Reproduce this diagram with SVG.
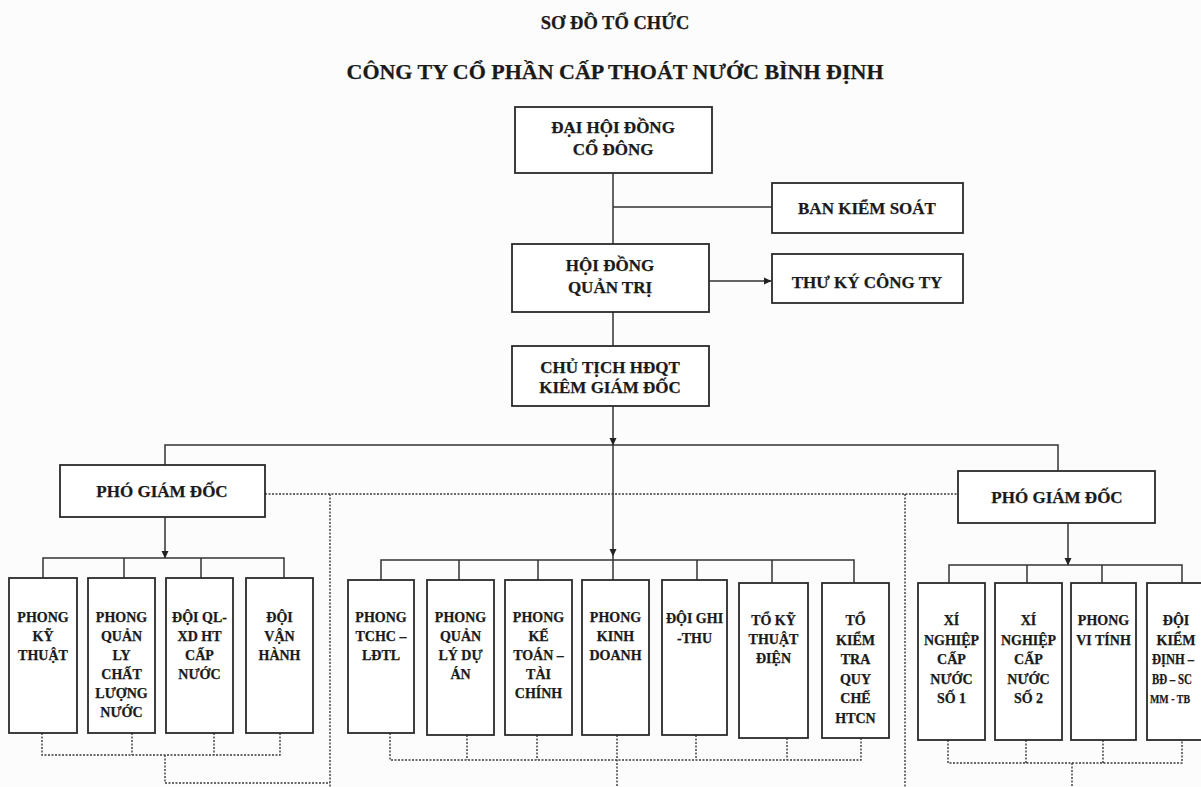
<svg xmlns="http://www.w3.org/2000/svg" width="1201" height="787" viewBox="0 0 1201 787">
<defs>
<marker id="arr" markerWidth="8" markerHeight="8" refX="7" refY="4" orient="auto" markerUnits="userSpaceOnUse">
<path d="M0,0.5 L7.5,4 L0,7.5 Z" fill="#222"/>
</marker>
<style>
.bx{fill:#fff;stroke:#2a2a2a;stroke-width:1.8}
.ln{fill:none;stroke:#333;stroke-width:1.5}
.dt{fill:none;stroke:#3a3a3a;stroke-width:1.4;stroke-dasharray:2 1.5}
.t{font-family:"Liberation Serif","Times New Roman",serif;font-weight:bold;fill:#1a1a1a;stroke:#1a1a1a;stroke-width:0.25;text-anchor:middle}
.t17{font-size:17px}
.t14{font-size:14px}
</style>
</defs>
<rect width="1201" height="787" fill="#fcfcfc"/>

<g id="title">
<text class="t" x="615" y="29" font-size="18.5">SƠ ĐỒ TỔ CHỨC</text>
<text class="t" x="615" y="79" font-size="21" textLength="537" lengthAdjust="spacingAndGlyphs">CÔNG TY CỔ PHẦN CẤP THOÁT NƯỚC BÌNH ĐỊNH</text>
</g>

<g id="connectors">
<path class="ln" d="M613,173 V244 M613,207 H772 M613,312 V346"/>
<path class="ln" d="M709,281 H771" marker-end="url(#arr)"/>
<path class="ln" d="M613,406 V445" marker-end="url(#arr)"/>
<path class="ln" d="M613,445 V556" marker-end="url(#arr)"/>
<path class="ln" d="M613,556 V580"/>
<path class="ln" d="M165,465 V445 H1058 V471"/>
<path class="ln" d="M165,517 V558" marker-end="url(#arr)"/>
<path class="ln" d="M43,578 V558 H284 V578 M124,558 V578 M201,558 V578"/>
<path class="ln" d="M381,580 V560 H854 V583 M459,560 V580 M538,560 V580 M697,560 V580 M772,560 V583"/>
<path class="ln" d="M1068,523 V565" marker-end="url(#arr)"/>
<path class="ln" d="M949,583 V565 H1182 V583 M1027,565 V583 M1102,565 V583"/>
<path class="dt" d="M265,494 H958 M330,494 V787 M905,494 V787"/>
<path class="dt" d="M42,733 V755 H280 V733 M132,733 V755 M214,733 V755 M165,755 V783 H330"/>
<path class="dt" d="M390,733 V760 H861 V738 M467,735 V760 M537,735 V760 M696,735 V760 M787,738 V760 M617,735 V787"/>
<path class="dt" d="M948,740 V763 H1182 V740 M1026,740 V763 M1103,740 V763 M1072,763 V787"/>
</g>

<g id="dhdcd"><rect class="bx" x="515" y="107" width="197" height="66"/>
<text class="t t17" x="613" y="133">ĐẠI HỘI ĐỒNG</text><text class="t t17" x="613" y="155">CỔ ĐÔNG</text></g>
<g id="bks"><rect class="bx" x="772" y="183" width="191" height="50"/>
<text class="t t17" x="867" y="214">BAN KIỂM SOÁT</text></g>
<g id="hdqt"><rect class="bx" x="512" y="244" width="197" height="68"/>
<text class="t t17" x="610" y="271">HỘI ĐỒNG</text><text class="t t17" x="610" y="293">QUẢN TRỊ</text></g>
<g id="thuky"><rect class="bx" x="772" y="254" width="191" height="49"/>
<text class="t t17" x="867" y="288">THƯ KÝ CÔNG TY</text></g>
<g id="chutich"><rect class="bx" x="512" y="346" width="197" height="60"/>
<text class="t t17" x="610" y="373">CHỦ TỊCH HĐQT</text><text class="t t17" x="610" y="393">KIÊM GIÁM ĐỐC</text></g>
<g id="pgd1"><rect class="bx" x="60" y="465" width="205" height="52"/>
<text class="t t17" x="162" y="497">PHÓ GIÁM ĐỐC</text></g>
<g id="pgd2"><rect class="bx" x="958" y="471" width="197" height="52"/>
<text class="t t17" x="1057" y="503">PHÓ GIÁM ĐỐC</text></g>

<g id="n1"><rect class="bx" x="9" y="578" width="68" height="155"/>
<text class="t t14" y="622"><tspan x="43">PHONG</tspan><tspan x="43" dy="19">KỸ</tspan><tspan x="43" dy="19">THUẬT</tspan></text></g>
<g id="n2"><rect class="bx" x="88" y="578" width="67" height="155"/>
<text class="t t14" y="622"><tspan x="121.5">PHONG</tspan><tspan x="121.5" dy="19">QUẢN</tspan><tspan x="121.5" dy="19">LY</tspan><tspan x="121.5" dy="19">CHẤT</tspan><tspan x="121.5" dy="19">LƯỢNG</tspan><tspan x="121.5" dy="19">NƯỚC</tspan></text></g>
<g id="n3"><rect class="bx" x="166" y="578" width="67" height="155"/>
<text class="t t14" y="622"><tspan x="199.5">ĐỘI QL-</tspan><tspan x="199.5" dy="19">XD HT</tspan><tspan x="199.5" dy="19">CẤP</tspan><tspan x="199.5" dy="19">NƯỚC</tspan></text></g>
<g id="n4"><rect class="bx" x="246" y="578" width="67" height="155"/>
<text class="t t14" y="622"><tspan x="279.5">ĐỘI</tspan><tspan x="279.5" dy="19">VẬN</tspan><tspan x="279.5" dy="19">HÀNH</tspan></text></g>

<g id="n5"><rect class="bx" x="348" y="580" width="66" height="153"/>
<text class="t t14" y="622"><tspan x="381">PHONG</tspan><tspan x="381" dy="19">TCHC –</tspan><tspan x="381" dy="19">LĐTL</tspan></text></g>
<g id="n6"><rect class="bx" x="427" y="580" width="67" height="155"/>
<text class="t t14" y="622"><tspan x="460.5">PHONG</tspan><tspan x="460.5" dy="19">QUẢN</tspan><tspan x="460.5" dy="19">LÝ DỰ</tspan><tspan x="460.5" dy="19">ÁN</tspan></text></g>
<g id="n7"><rect class="bx" x="505" y="580" width="67" height="155"/>
<text class="t t14" y="622"><tspan x="538.5">PHONG</tspan><tspan x="538.5" dy="19">KẾ</tspan><tspan x="538.5" dy="19">TOÁN –</tspan><tspan x="538.5" dy="19">TÀI</tspan><tspan x="538.5" dy="19">CHÍNH</tspan></text></g>
<g id="n8"><rect class="bx" x="582" y="580" width="67" height="155"/>
<text class="t t14" y="622"><tspan x="615.5">PHONG</tspan><tspan x="615.5" dy="19">KINH</tspan><tspan x="615.5" dy="19">DOANH</tspan></text></g>
<g id="n9"><rect class="bx" x="662" y="580" width="65" height="155"/>
<text class="t t14" y="623"><tspan x="694.5">ĐỘI GHI</tspan><tspan x="694.5" dy="20">-THU</tspan></text></g>
<g id="n10"><rect class="bx" x="739" y="583" width="69" height="155"/>
<text class="t t14" y="625"><tspan x="773.5">TỔ KỸ</tspan><tspan x="773.5" dy="19">THUẬT</tspan><tspan x="773.5" dy="19">ĐIỆN</tspan></text></g>
<g id="n11"><rect class="bx" x="822" y="583" width="67" height="155"/>
<text class="t t14" y="625"><tspan x="855.5">TỔ</tspan><tspan x="855.5" dy="19.5">KIỂM</tspan><tspan x="855.5" dy="19.5">TRA</tspan><tspan x="855.5" dy="19.5">QUY</tspan><tspan x="855.5" dy="19.5">CHẾ</tspan><tspan x="855.5" dy="19.5">HTCN</tspan></text></g>

<g id="n12"><rect class="bx" x="918" y="583" width="67" height="157"/>
<text class="t t14" y="625"><tspan x="951.5">XÍ</tspan><tspan x="951.5" dy="19.5">NGHIỆP</tspan><tspan x="951.5" dy="19.5">CẤP</tspan><tspan x="951.5" dy="19.5">NƯỚC</tspan><tspan x="951.5" dy="19.5">SỐ 1</tspan></text></g>
<g id="n13"><rect class="bx" x="995" y="583" width="67" height="157"/>
<text class="t t14" y="625"><tspan x="1028.5">XÍ</tspan><tspan x="1028.5" dy="19.5">NGHIỆP</tspan><tspan x="1028.5" dy="19.5">CẤP</tspan><tspan x="1028.5" dy="19.5">NƯỚC</tspan><tspan x="1028.5" dy="19.5">SỐ 2</tspan></text></g>
<g id="n14"><rect class="bx" x="1071" y="583" width="65" height="157"/>
<text class="t t14" y="625"><tspan x="1103.5">PHONG</tspan><tspan x="1103.5" dy="19.5">VI TÍNH</tspan></text></g>
<g id="n15"><rect class="bx" x="1147" y="583" width="70" height="157"/>
<text class="t t14" x="1176" y="625">ĐỘI</text>
<text class="t t14" x="1176" y="644.5">KIỂM</text>
<text class="t t14" x="1173" y="664" textLength="42" lengthAdjust="spacingAndGlyphs">ĐỊNH –</text>
<text class="t t14" x="1172" y="683.5" textLength="40" lengthAdjust="spacingAndGlyphs">BĐ – SC</text>
<text class="t" x="1170" y="703" font-size="12.5" textLength="40" lengthAdjust="spacingAndGlyphs">MM - TB</text></g>
</svg>
